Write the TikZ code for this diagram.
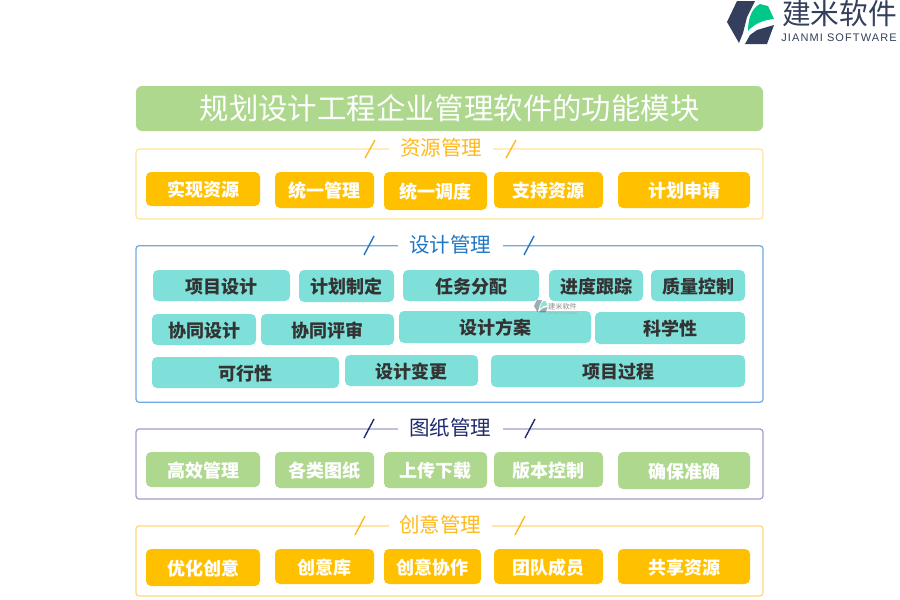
\documentclass[tikz,border=0pt]{standalone}
\usepackage{fontspec}
\usepackage{xcolor}
\newfontfamily\cjk{Noto Sans CJK SC}
\newfontfamily\logolatin[LetterSpace=10]{Liberation Sans}
\definecolor{titlegreen}{HTML}{AFD88F}
\definecolor{boxyellow}{HTML}{FFC000}
\definecolor{boxteal}{HTML}{7FE0D9}
\definecolor{frameyellow}{HTML}{FFE59A}
\definecolor{frameorange}{HTML}{FFD67E}
\definecolor{frameblue}{HTML}{70A9DE}
\definecolor{framepurple}{HTML}{9C9ECB}
\definecolor{headyellow}{HTML}{FFB91D}
\definecolor{headblue}{HTML}{1F77C3}
\definecolor{headnavy}{HTML}{1F2A6E}
\definecolor{logodark}{HTML}{333F5C}
\definecolor{logogreen}{HTML}{00C88A}
\newcommand{\logomark}{
    \fill[logodark] (737,1) -- (755,1) -- (747,17) -- (743,33) -- (739,43) -- (727,22) -- cycle;
    \fill[logodark] (745,44) -- (767,44) -- (774,25) -- (757,30) -- (750,35) -- cycle;
    \fill[logogreen] (748,31) .. controls (748,18) and (752,8) .. (760,4) -- (768,6) -- (774,19) .. controls (764,20) and (755,23) .. (748,31) -- cycle;
}
\tikzset{
    titlebox/.style={fill=titlegreen,rounded corners=6pt,text=white,inner sep=0pt,font=\cjk\fontsize{29.4}{32}\selectfont},
    module/.style={rounded corners=5pt,inner sep=0pt,text height=17pt,text depth=1.7pt,font=\cjk\bfseries\fontsize{18}{20}\selectfont},
    yellowbox/.style={module,fill=boxyellow,text=white},
    greenbox/.style={module,fill=titlegreen,text=white},
    tealbox/.style={module,fill=boxteal,text=black!80},
    framebox/.style={rounded corners=3pt,line width=1.2pt,inner sep=0pt},
    headtext/.style={fill=white,inner sep=0pt,minimum height=22pt,font=\cjk\fontsize{20.5}{24}\selectfont},
    slash/.style={line width=1.4pt}
}
\begin{document}
\begin{tikzpicture}[x=1pt,y=-1pt]
    \useasboundingbox (0,0) rectangle (900,600);
    % logo
    \logomark
    \node[text=logodark,inner sep=0pt,font=\cjk\fontsize{28.7}{30}\selectfont] (logocn) at (839.5,14) {建米软件};
    \node[text=logodark,inner sep=0pt,font=\logolatin\fontsize{11}{12}\selectfont] (logoen) at (839,38) {JIANMI SOFTWARE};
    % title
    \node[titlebox,minimum width=627pt,minimum height=45pt] (title) at (449.5,108.5) {规划设计工程企业管理软件的功能模块};
    % frames
    \node[framebox,draw=frameyellow,minimum width=627pt,minimum height=70pt] (ziyuan) at (449.5,184) {};
    \node[framebox,draw=frameblue,minimum width=627pt,minimum height=156.5pt] (sheji) at (449.5,324) {};
    \node[framebox,draw=framepurple,minimum width=627pt,minimum height=70pt] (tuzhi) at (449.5,464) {};
    \node[framebox,draw=frameorange,minimum width=627pt,minimum height=70pt] (chuangyi) at (449.5,561) {};
    % headings
    \node[headtext,text=headyellow,minimum width=104pt] (ziyuanhead) at (441,148) {资源管理};
    \node[headtext,text=headblue,minimum width=105pt] (shejihead) at (450,245) {设计管理};
    \node[headtext,text=headnavy,minimum width=105pt] (tuzhihead) at (450,428) {图纸管理};
    \node[headtext,text=headyellow,minimum width=103pt] (chuangyihead) at (440,525) {创意管理};
    % slashes
    \draw[slash,headyellow] (365,158) -- (375,140);
    \draw[slash,headyellow] (506,158) -- (516,140);
    \draw[slash,headblue] (364,255) -- (374,236);
    \draw[slash,headblue] (524,255) -- (534,236);
    \draw[slash,headnavy] (364,438) -- (374,419);
    \draw[slash,headnavy] (525,438) -- (535,419);
    \draw[slash,headyellow] (355,535) -- (365,516);
    \draw[slash,headyellow] (515,535) -- (525,516);
    % resources
    \node[yellowbox,minimum width=114pt,minimum height=34pt] (shixian) at (203,189) {实现资源};
    \node[yellowbox,minimum width=99pt,minimum height=36pt] (tongyiguanli) at (324.5,190) {统一管理};
    \node[yellowbox,minimum width=103pt,minimum height=38pt] (tongyidiaodu) at (435.5,191) {统一调度};
    \node[yellowbox,minimum width=109pt,minimum height=36pt] (zhichi) at (548.5,190) {支持资源};
    \node[yellowbox,minimum width=132pt,minimum height=36pt] (shenqing) at (684,190) {计划申请};
    % design
    \node[tealbox,minimum width=137pt,minimum height=31pt] (xiangmu) at (221.5,285.5) {项目设计};
    \node[tealbox,minimum width=95pt,minimum height=32pt] (zhiding) at (346.5,286) {计划制定};
    \node[tealbox,minimum width=136pt,minimum height=31pt] (renwu) at (471,285.5) {任务分配};
    \node[tealbox,minimum width=94pt,minimum height=31pt] (jindu) at (596,285.5) {进度跟踪};
    \node[tealbox,minimum width=94pt,minimum height=31pt] (zhiliang) at (698,285.5) {质量控制};
    \node[tealbox,minimum width=104pt,minimum height=31pt] (xietong) at (204,329.5) {协同设计};
    \node[tealbox,minimum width=133pt,minimum height=31pt] (pingshen) at (327.5,329.5) {协同评审};
    \node[tealbox,minimum width=192pt,minimum height=32pt] (fangan) at (495,327) {设计方案};
    \node[tealbox,minimum width=150pt,minimum height=32pt] (kexue) at (670,328) {科学性};
    \node[tealbox,minimum width=187pt,minimum height=31pt] (kexing) at (245.5,372.5) {可行性};
    \node[tealbox,minimum width=133pt,minimum height=31pt] (biangeng) at (411.5,370.5) {设计变更};
    \node[tealbox,minimum width=254pt,minimum height=32pt] (guocheng) at (618,371) {项目过程};
    % drawings
    \node[greenbox,minimum width=114pt,minimum height=35pt] (gaoxiao) at (203,469.5) {高效管理};
    \node[greenbox,minimum width=99pt,minimum height=36pt] (gelei) at (324.5,470) {各类图纸};
    \node[greenbox,minimum width=103pt,minimum height=36pt] (shangchuan) at (435.5,470) {上传下载};
    \node[greenbox,minimum width=109pt,minimum height=35pt] (banben) at (548.5,469.5) {版本控制};
    \node[greenbox,minimum width=132pt,minimum height=37pt] (queBao) at (684,470.5) {确保准确};
    % ideas
    \node[yellowbox,minimum width=114pt,minimum height=37pt] (youhua) at (203,567.5) {优化创意};
    \node[yellowbox,minimum width=99pt,minimum height=35pt] (chuangyiku) at (324.5,566.5) {创意库};
    \node[yellowbox,minimum width=97pt,minimum height=35pt] (xiezuo) at (432.5,566.5) {创意协作};
    \node[yellowbox,minimum width=109pt,minimum height=35pt] (tuandui) at (548.5,566.5) {团队成员};
    \node[yellowbox,minimum width=132pt,minimum height=35pt] (gongxiang) at (684,566.5) {共享资源};
    % watermark
    \begin{scope}[opacity=0.45,shift={(534,300)},scale=0.29,shift={(-727,-1)}]
        \logomark
    \end{scope}
    \node[text=black!45,inner sep=0pt,font=\cjk\fontsize{7.2}{8}\selectfont] (markcn) at (562.5,307) {建米软件};
    \node[text=black!35,inner sep=0pt,font=\logolatin\fontsize{2.8}{3}\selectfont] (marken) at (562.5,314) {JIANMI SOFTWARE};
\end{tikzpicture}
\end{document}
